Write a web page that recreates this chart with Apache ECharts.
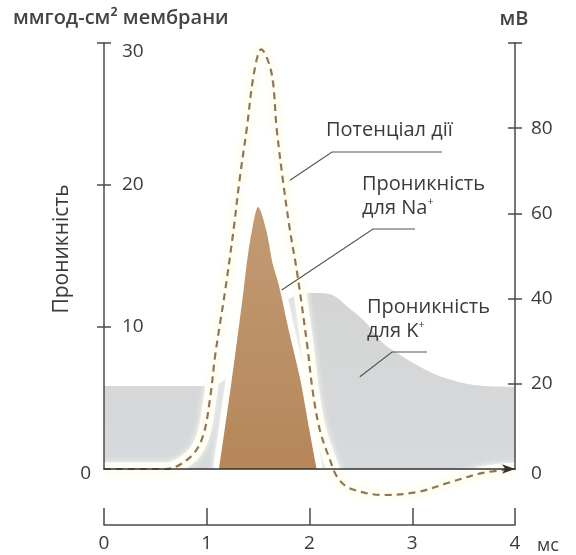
<!DOCTYPE html>
<html>
<head>
<meta charset="utf-8">
<script src="https://cdn.jsdelivr.net/npm/echarts@6/dist/echarts.min.js"></script>
<style>
  html, body { margin: 0; padding: 0; background: #ffffff; }
  #chart { width: 576px; height: 555px; }
</style>
</head>
<body>
<div id="chart"></div>
<script>
// Tick values
const timeTicks = [0, 1, 2, 3, 4];          // ms
const permTicks = [10, 20, 30];             // permeability scale
const mvTicks = [0, 20, 40, 60, 80];        // mV scale

// Action potential (mV) over time (ms)
const apTime = [0, 0.6, 0.84, 0.96, 1.03, 1.08, 1.13, 1.18, 1.26, 1.32, 1.39, 1.46, 1.53, 1.63, 1.68, 1.74, 1.81, 1.88, 1.98, 2.03, 2.10, 2.20, 2.27, 2.39, 2.72, 3.05, 3.37, 3.69, 4.0];
const apMv   = [0, 0, 2.8, 7.5, 16.2, 26.3, 34.3, 42, 56, 68, 80, 93, 98.5, 93, 80, 68, 56, 46, 28.6, 18.5, 9.2, 2.1, -1.9, -4.5, -6.1, -5.4, -3.1, -0.9, 0];

// Na+ permeability
const naTime = [1.12, 1.24, 1.35, 1.39, 1.44, 1.50, 1.58, 1.64, 1.70, 1.81, 1.91, 2.00, 2.07];
const naPerm = [0, 6.1, 12.1, 14.5, 16.8, 18.45, 16.8, 14.5, 13.0, 9.4, 6.3, 2.7, 0];

// K+ permeability
const kTime = [0, 1.0, 1.08, 1.2, 1.35, 1.5, 1.65, 1.8, 1.95, 2.07, 2.2, 2.39, 2.55, 2.71, 2.88, 3.05, 3.2, 3.37, 3.53, 3.7, 4.0];
const kPerm = [5.85, 5.85, 5.9, 6.5, 8.0, 9.8, 11.2, 12.0, 12.35, 12.4, 12.3, 11.3, 10.3, 8.9, 8.05, 7.3, 6.75, 6.3, 6.0, 5.85, 5.8];

const pairs = (xs, ys) => xs.map((x, i) => [x, ys[i]]);

const FONT = '"Open Sans", "Noto Sans", sans-serif';
const TXT = '#3b3b3b';
const AXIS = '#4a4a4a';
const TICK_FS = 19;
const labelStyle = { fontFamily: FONT, fontSize: TICK_FS, color: TXT };
const zeroRich = { z: { fontFamily: FONT, fontSize: TICK_FS, color: TXT, padding: [10, 0, 0, 0] } };

const chart = echarts.init(document.getElementById('chart'), null, { renderer: 'canvas' });

const option = {
  animation: false,
  backgroundColor: '#ffffff',
  grid: { left: 104, right: 61, top: 43, bottom: 86 },
  xAxis: [
    { // baseline with arrow
      type: 'value', min: 0, max: 4, position: 'bottom', z: 10,
      axisLine: { show: true, onZero: false, symbol: ['none', 'arrow'], symbolSize: [7, 13], lineStyle: { color: '#333', width: 1.5 } },
      axisTick: { show: false }, axisLabel: { show: false }, splitLine: { show: false }
    },
    { // time scale below the plot
      type: 'value', min: 0, max: 4, interval: 1, position: 'bottom', offset: 56, z: 10,
      axisLine: { show: true, onZero: false, lineStyle: { color: AXIS, width: 1.5 } },
      axisTick: { show: true, inside: true, length: 17, lineStyle: { color: AXIS, width: 1.5 } },
      axisLabel: Object.assign({ margin: 9, customValues: timeTicks }, labelStyle),
      splitLine: { show: false },
      name: 'мс', nameLocation: 'end', nameGap: 22,
      nameTextStyle: { fontFamily: FONT, fontSize: 18, color: TXT, verticalAlign: 'top', padding: [12, 0, 0, 0] }
    }
  ],
  yAxis: [
    { // left, outer side
      type: 'value', min: 0, max: 30, interval: 10, position: 'left', z: 10,
      axisLine: { show: true, onZero: false, lineStyle: { color: AXIS, width: 1.5 } },
      axisTick: { show: true, length: 7, customValues: permTicks, lineStyle: { color: AXIS, width: 1.5 } },
      axisLabel: Object.assign({ margin: 13, customValues: [0], formatter: v => '{z|' + v + '}', rich: zeroRich }, labelStyle),
      splitLine: { show: false }
    },
    { // left, inner side
      type: 'value', min: 0, max: 30, interval: 10, position: 'left', z: 10,
      axisLine: { show: false, onZero: false },
      axisTick: { show: true, inside: true, length: 7, customValues: permTicks, lineStyle: { color: AXIS, width: 1.5 } },
      axisLabel: Object.assign({
        inside: true, margin: 18, customValues: permTicks,
        formatter: v => v === 30 ? '{t|30}' : String(v),
        rich: { t: { fontFamily: FONT, fontSize: TICK_FS, color: TXT, padding: [18, 0, 0, 0] } }
      }, labelStyle),
      splitLine: { show: false }
    },
    { // right, outer side
      type: 'value', min: 0, max: 100, interval: 20, position: 'right', z: 10,
      axisLine: { show: true, onZero: false, lineStyle: { color: AXIS, width: 1.5 } },
      axisTick: { show: true, length: 7, customValues: [20, 40, 60, 80, 100], lineStyle: { color: AXIS, width: 1.5 } },
      axisLabel: Object.assign({ margin: 16, customValues: mvTicks, formatter: v => v === 0 ? '{z|0}' : String(v), rich: zeroRich }, labelStyle),
      splitLine: { show: false }
    },
    { // right, inner side
      type: 'value', min: 0, max: 100, interval: 20, position: 'right', z: 10,
      axisLine: { show: false, onZero: false },
      axisTick: { show: true, inside: true, length: 7, customValues: [20, 40, 60, 80, 100], lineStyle: { color: AXIS, width: 1.5 } },
      axisLabel: { show: false },
      splitLine: { show: false }
    }
  ],
  series: [
    {
      name: 'K', type: 'line', xAxisIndex: 0, yAxisIndex: 0,
      data: pairs(kTime, kPerm), smooth: 0.4, symbol: 'none',
      lineStyle: { width: 0 },
      areaStyle: {
        opacity: 1,
        color: new echarts.graphic.LinearGradient(0, 0, 0, 1, [
          { offset: 0, color: '#d4d4d4' }, { offset: 1, color: '#d6dadc' }
        ])
      },
      z: 1
    },
    { // soft white band around the Na+ peak
      name: 'naHalo', type: 'line', xAxisIndex: 0, yAxisIndex: 0,
      data: pairs(naTime, naPerm), smooth: 0.3, symbol: 'none',
      lineStyle: { color: 'rgba(255,255,252,0.95)', width: 12, shadowColor: '#ffffff', shadowBlur: 6 },
      z: 2
    },
    { // soft white band along the action potential
      name: 'apHalo', type: 'line', xAxisIndex: 0, yAxisIndex: 2,
      data: pairs(apTime, apMv), smooth: 0.35, symbol: 'none', clip: false,
      lineStyle: { color: 'rgba(255,254,246,0.95)', width: 13, shadowColor: '#fffef5', shadowBlur: 6 },
      z: 2
    },
    {
      name: 'Na', type: 'line', xAxisIndex: 0, yAxisIndex: 0,
      data: pairs(naTime, naPerm), smooth: 0.3, symbol: 'none',
      lineStyle: { width: 0 },
      areaStyle: {
        opacity: 1,
        color: new echarts.graphic.LinearGradient(0, 0, 0, 1, [
          { offset: 0, color: '#c29b74' }, { offset: 1, color: '#b6865a' }
        ])
      },
      z: 3
    },
    {
      name: 'AP', type: 'line', xAxisIndex: 0, yAxisIndex: 2,
      data: pairs(apTime, apMv), smooth: 0.35, symbol: 'none', clip: false,
      lineStyle: { color: '#937650', width: 2.2, type: [7, 5] },
      z: 4
    }
  ]
};
chart.setOption(option);

// Annotations: text blocks with leader lines ending on the curves
const apEnd = chart.convertToPixel({ xAxisIndex: 0, yAxisIndex: 2 }, [1.81, 67.8]);
const naEnd = chart.convertToPixel({ xAxisIndex: 0, yAxisIndex: 0 }, [1.73, 12.6]);
const kEnd  = chart.convertToPixel({ xAxisIndex: 0, yAxisIndex: 0 }, [2.49, 6.5]);

const NOTE_FS = 20;
const sup = { s: { fontFamily: FONT, fontSize: 11, fill: TXT, verticalAlign: 'top' } };
const txt = (x, y, text, extra) => ({
  type: 'text', x, y, z: 20,
  style: Object.assign({ text, fontFamily: FONT, fontSize: NOTE_FS, fill: TXT, align: 'left', verticalAlign: 'middle', lineHeight: 24, rich: sup }, extra || {})
});
const leader = (pts) => ({
  type: 'polyline', z: 19, shape: { points: pts },
  style: { stroke: '#555', lineWidth: 1.2, fill: null }
});

chart.setOption({
  graphic: [
    txt(13, 18, 'ммгод-см² мембрани', { fontWeight: 600, fontSize: 20, fill: '#444' }),
    txt(514, 19, 'мВ', { align: 'center', fontWeight: 600, fontSize: 20, fill: '#444' }),
    { type: 'text', x: 62, y: 249, rotation: Math.PI / 2, z: 20,
      style: { text: 'Проникність', fontFamily: FONT, fontSize: 21, fill: TXT, align: 'center', verticalAlign: 'middle' } },
    txt(326, 130, 'Потенціал дії'),
    leader([[442, 152], [332, 152], apEnd]),
    txt(362, 172, 'Проникність\nдля Na{s|+}', { verticalAlign: 'top' }),
    leader([[415, 229], [373, 229], naEnd]),
    txt(367, 295, 'Проникність\nдля K{s|+}', { verticalAlign: 'top' }),
    leader([[427, 352], [392, 352], kEnd])
  ]
});
</script>
</body>
</html>
